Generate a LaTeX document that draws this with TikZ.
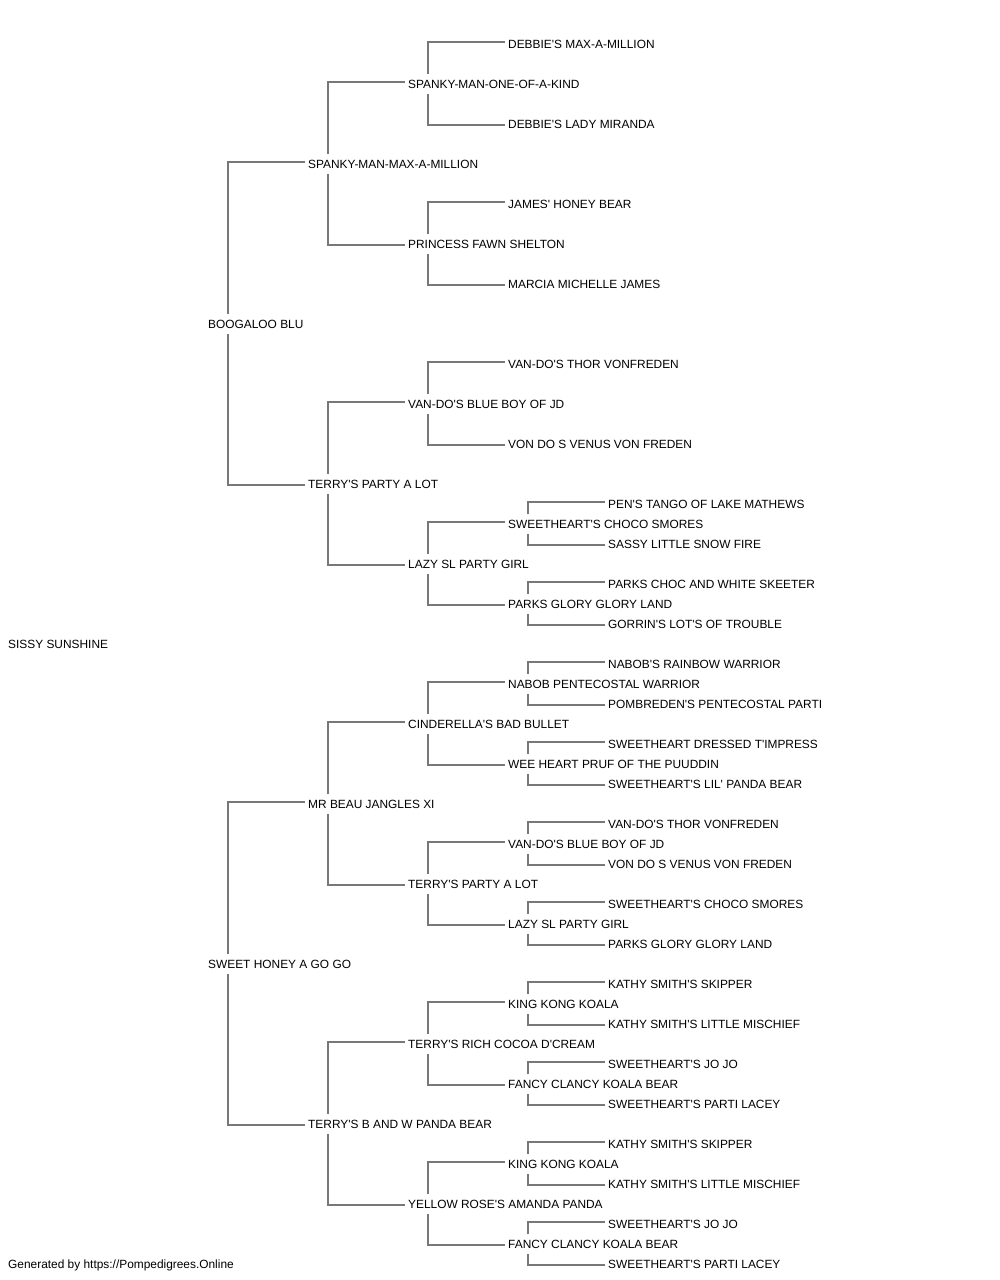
\documentclass[tikz,border=0pt]{standalone}
\usepackage{fontspec}
\newfontfamily\arialf{Liberation Sans}
\definecolor{linegray}{RGB}{120,120,120}
\newcommand\upl[2]{\draw[conn] ([xshift=20pt,yshift=10pt]#1.west) |- ([xshift=-3pt,yshift=2pt]#2.west);}
\newcommand\dnl[2]{\draw[conn] ([xshift=20pt,yshift=-10pt]#1.west) |- ([xshift=-3pt,yshift=-1pt]#2.west);}
\begin{document}
\begin{tikzpicture}[x=1pt,y=-1pt,
 pn/.style={anchor=west,inner sep=0pt,text height=8.6pt,text depth=0pt,font=\arialf\fontsize{11.9}{14}\selectfont,text=black},
 conn/.style={draw=linegray,line width=1.6pt}]
\useasboundingbox (0,0) rectangle (1000,1280);
% generation 0
\node[pn] (a) at (8,644) {SISSY SUNSHINE};
% generation 1
\node[pn] (b1) at (208,324) {BOOGALOO BLU};
\node[pn] (b2) at (208,964) {SWEET HONEY A GO GO};
% generation 2
\node[pn] (c1) at (308,164) {SPANKY-MAN-MAX-A-MILLION};
\node[pn] (c2) at (308,484) {TERRY'S PARTY A LOT};
\node[pn] (c3) at (308,804) {MR BEAU JANGLES XI};
\node[pn] (c4) at (308,1124) {TERRY'S B AND W PANDA BEAR};
% generation 3
\node[pn] (d1) at (408,84) {SPANKY-MAN-ONE-OF-A-KIND};
\node[pn] (d2) at (408,244) {PRINCESS FAWN SHELTON};
\node[pn] (d3) at (408,404) {VAN-DO'S BLUE BOY OF JD};
\node[pn] (d4) at (408,564) {LAZY SL PARTY GIRL};
\node[pn] (d5) at (408,724) {CINDERELLA'S BAD BULLET};
\node[pn] (d6) at (408,884) {TERRY'S PARTY A LOT};
\node[pn] (d7) at (408,1044) {TERRY'S RICH COCOA D'CREAM};
\node[pn] (d8) at (408,1204) {YELLOW ROSE'S AMANDA PANDA};
% generation 4
\node[pn] (e1) at (508,44) {DEBBIE'S MAX-A-MILLION};
\node[pn] (e2) at (508,124) {DEBBIE'S LADY MIRANDA};
\node[pn] (e3) at (508,204) {JAMES' HONEY BEAR};
\node[pn] (e4) at (508,284) {MARCIA MICHELLE JAMES};
\node[pn] (e5) at (508,364) {VAN-DO'S THOR VONFREDEN};
\node[pn] (e6) at (508,444) {VON DO S VENUS VON FREDEN};
\node[pn] (e7) at (508,524) {SWEETHEART'S CHOCO SMORES};
\node[pn] (e8) at (508,604) {PARKS GLORY GLORY LAND};
\node[pn] (e9) at (508,684) {NABOB PENTECOSTAL WARRIOR};
\node[pn] (e10) at (508,764) {WEE HEART PRUF OF THE PUUDDIN};
\node[pn] (e11) at (508,844) {VAN-DO'S BLUE BOY OF JD};
\node[pn] (e12) at (508,924) {LAZY SL PARTY GIRL};
\node[pn] (e13) at (508,1004) {KING KONG KOALA};
\node[pn] (e14) at (508,1084) {FANCY CLANCY KOALA BEAR};
\node[pn] (e15) at (508,1164) {KING KONG KOALA};
\node[pn] (e16) at (508,1244) {FANCY CLANCY KOALA BEAR};
% generation 5
\node[pn] (f7a) at (608,504) {PEN'S TANGO OF LAKE MATHEWS};
\node[pn] (f7b) at (608,544) {SASSY LITTLE SNOW FIRE};
\node[pn] (f8a) at (608,584) {PARKS CHOC AND WHITE SKEETER};
\node[pn] (f8b) at (608,624) {GORRIN'S LOT'S OF TROUBLE};
\node[pn] (f9a) at (608,664) {NABOB'S RAINBOW WARRIOR};
\node[pn] (f9b) at (608,704) {POMBREDEN'S PENTECOSTAL PARTI};
\node[pn] (f10a) at (608,744) {SWEETHEART DRESSED T'IMPRESS};
\node[pn] (f10b) at (608,784) {SWEETHEART'S LIL' PANDA BEAR};
\node[pn] (f11a) at (608,824) {VAN-DO'S THOR VONFREDEN};
\node[pn] (f11b) at (608,864) {VON DO S VENUS VON FREDEN};
\node[pn] (f12a) at (608,904) {SWEETHEART'S CHOCO SMORES};
\node[pn] (f12b) at (608,944) {PARKS GLORY GLORY LAND};
\node[pn] (f13a) at (608,984) {KATHY SMITH'S SKIPPER};
\node[pn] (f13b) at (608,1024) {KATHY SMITH'S LITTLE MISCHIEF};
\node[pn] (f14a) at (608,1064) {SWEETHEART'S JO JO};
\node[pn] (f14b) at (608,1104) {SWEETHEART'S PARTI LACEY};
\node[pn] (f15a) at (608,1144) {KATHY SMITH'S SKIPPER};
\node[pn] (f15b) at (608,1184) {KATHY SMITH'S LITTLE MISCHIEF};
\node[pn] (f16a) at (608,1224) {SWEETHEART'S JO JO};
\node[pn] (f16b) at (608,1264) {SWEETHEART'S PARTI LACEY};
% footer
\node[pn] (foot) at (8,1264) {Generated by https://Pompedigrees.Online};
% connectors
\upl{b1}{c1} \dnl{b1}{c2}
\upl{b2}{c3} \dnl{b2}{c4}
\upl{c1}{d1} \dnl{c1}{d2}
\upl{c2}{d3} \dnl{c2}{d4}
\upl{c3}{d5} \dnl{c3}{d6}
\upl{c4}{d7} \dnl{c4}{d8}
\upl{d1}{e1} \dnl{d1}{e2}
\upl{d2}{e3} \dnl{d2}{e4}
\upl{d3}{e5} \dnl{d3}{e6}
\upl{d4}{e7} \dnl{d4}{e8}
\upl{d5}{e9} \dnl{d5}{e10}
\upl{d6}{e11} \dnl{d6}{e12}
\upl{d7}{e13} \dnl{d7}{e14}
\upl{d8}{e15} \dnl{d8}{e16}
\upl{e7}{f7a} \dnl{e7}{f7b}
\upl{e8}{f8a} \dnl{e8}{f8b}
\upl{e9}{f9a} \dnl{e9}{f9b}
\upl{e10}{f10a} \dnl{e10}{f10b}
\upl{e11}{f11a} \dnl{e11}{f11b}
\upl{e12}{f12a} \dnl{e12}{f12b}
\upl{e13}{f13a} \dnl{e13}{f13b}
\upl{e14}{f14a} \dnl{e14}{f14b}
\upl{e15}{f15a} \dnl{e15}{f15b}
\upl{e16}{f16a} \dnl{e16}{f16b}
\end{tikzpicture}
\end{document}
